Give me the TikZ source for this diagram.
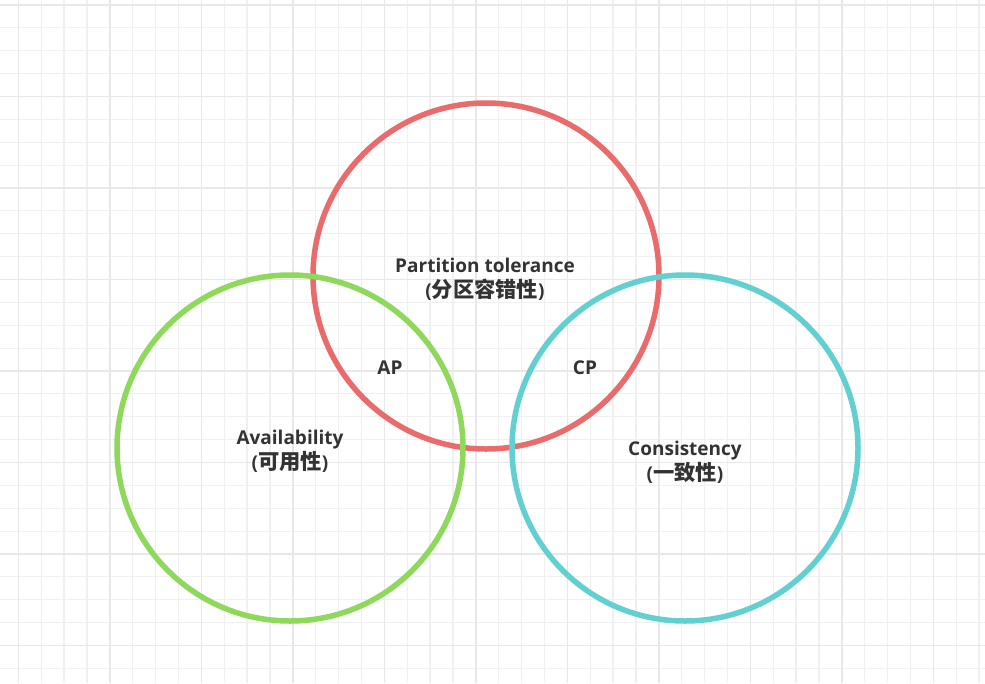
\documentclass[tikz,border=0pt]{standalone}
\usepackage{fontspec}
\setmainfont{Open Sans}
\newfontfamily\cjk[Scale=1.12]{Noto Sans CJK SC}
\usetikzlibrary{positioning}
\definecolor{gridminor}{HTML}{F0F0F0}
\definecolor{gridmajor}{HTML}{E8E8E8}
\definecolor{ptred}{HTML}{E96B6B}
\definecolor{avgreen}{HTML}{8ED85B}
\definecolor{cscyan}{HTML}{62D0D0}
\definecolor{labeltext}{HTML}{333333}
\tikzset{
    venn/.style={x=1pt, y=-1pt, font=\fontsize{19}{25}\selectfont\bfseries, text=labeltext},
    set/.style={draw, circle, line width=5.5pt, minimum size=346pt, inner sep=0pt},
    setname/.style={align=center},
    pair/.style={inner sep=1pt},
}

\begin{document}
\begin{tikzpicture}[venn]
    \useasboundingbox (0,0) rectangle (985,683);
    \fill[white] (0,0) rectangle (985,683);
    % background grid
    \foreach \i in {-1,...,42}
        \draw[gridminor, line width=1.2pt] (18.3+22.875*\i,0) -- (18.3+22.875*\i,683);
    \foreach \j in {0,...,29}
        \draw[gridminor, line width=1.2pt] (0,5+22.875*\j) -- (985,5+22.875*\j);
    \foreach \i in {0,...,10}
        \draw[gridmajor, line width=1.4pt] (18.3+91.5*\i,0) -- (18.3+91.5*\i,683);
    \foreach \j in {0,...,7}
        \draw[gridmajor, line width=1.4pt] (0,5+91.5*\j) -- (985,5+91.5*\j);

    \node[set, ptred]   (partition) at (486,276) {};
    \node[set, avgreen] (avail)     at (290,448) {};
    \node[set, cscyan]  (consist)   at (685,448) {};

    \node[setname] (ptlabel) at (485,279) {Partition tolerance\\({\cjk 分区容错性})};
    \node[setname] (avlabel) at (290,451) {Availability\\({\cjk 可用性})};
    \node[setname] (cslabel) at (685,462) {Consistency\\({\cjk 一致性})};
    \node[pair] (ap) at (390,368) {AP};
    \node[pair] (cp) at (585,368) {CP};
\end{tikzpicture}
\end{document}
